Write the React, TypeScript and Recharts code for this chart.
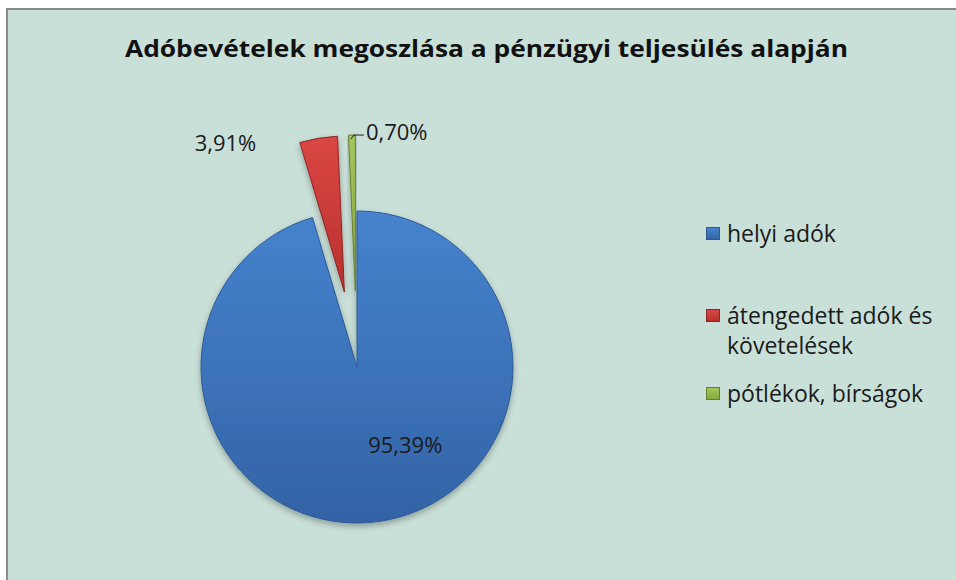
import React from 'react';
import { PieChart, Pie, Cell, Legend } from 'recharts';

const categories = ['helyi adók', 'átengedett adók és követelések', 'pótlékok, bírságok'];
const shares = [95.39, 3.91, 0.7];
const percentLabels = ['95,39%', '3,91%', '0,70%'];
const title = 'Adóbevételek megoszlása a pénzügyi teljesülés alapján';

const W = 956;
const H = 580;
const PIE_CX = 357;
const PIE_CY = 367;
const RADIUS = 156;
const EXPLODE = [0, 76, 76];
const FONT = '"Open Sans", Lato, sans-serif';

const gradients = [
  { id: 'g0', top: '#4683CE', bottom: '#3363A6', stroke: '#2D5A95' },
  { id: 'g1', top: '#DA4744', bottom: '#B8302E', stroke: '#8E2422' },
  { id: 'g2', top: '#A6C65E', bottom: '#86A63E', stroke: '#66802C' },
];

// label placement relative to the slice point (radius factor, dx, dy, anchor)
const labelLayout = [
  { rf: 0.5, dx: 37, dy: 0, anchor: 'middle' },
  { rf: 1.0, dx: -93, dy: 4, anchor: 'middle' },
  { rf: 1.0, dx: 14, dy: -4, anchor: 'start' },
];

const legendTops = [218, 300, 378];

const data = categories.map((name, i) => ({ name, value: shares[i], label: percentLabels[i] }));
const total = shares.reduce((a, b) => a + b, 0);
const RAD = Math.PI / 180;

function midAngle(i: number) {
  let cum = 0;
  for (let j = 0; j < i; j++) cum += shares[j];
  return 90 - (360 * (cum + shares[i] / 2)) / total;
}

function makeLabel(k: number) {
  return (p: any) => {
    if (p.index !== k) return null;
    const L = labelLayout[k];
    const ma = p.midAngle;
    const px = p.cx + p.outerRadius * L.rf * Math.cos(-ma * RAD);
    const py = p.cy + p.outerRadius * L.rf * Math.sin(-ma * RAD);
    const tx = px + L.dx;
    const ty = py + L.dy;
    return (
      <g key={`lbl-${k}`}>
        {k === 2 && (
          <polyline
            points={`${px - 1},${py + 4} ${px + 2},${py} ${tx - 2},${py}`}
            fill="none"
            stroke="#222"
            strokeWidth={1}
          />
        )}
        <text
          x={tx}
          y={ty}
          textAnchor={L.anchor}
          dominantBaseline="central"
          fontFamily={FONT}
          fontSize={22}
          fill="#1a1a1a"
        >
          {data[k].label}
        </text>
      </g>
    );
  };
}

function LegendContent() {
  return (
    <div style={{ position: 'relative', width: 245, height: 220 }}>
      {categories.map((c, i) => (
        <div
          key={c}
          style={{
            position: 'absolute',
            left: 0,
            top: legendTops[i] - 200,
            width: 248,
            display: 'flex',
            alignItems: 'flex-start',
            fontFamily: FONT,
            fontSize: 23,
            lineHeight: '30px',
            color: '#1a1a1a',
          }}
        >
          <svg width={14} height={14} style={{ marginTop: 9, marginRight: 7, flex: 'none' }}>
            <defs>
              <linearGradient id={`lg${i}`} x1="0" y1="0" x2="0" y2="1">
                <stop offset="0" stopColor={gradients[i].top} />
                <stop offset="1" stopColor={gradients[i].bottom} />
              </linearGradient>
            </defs>
            <rect x={0.5} y={0.5} width={13} height={12} fill={`url(#lg${i})`} stroke={gradients[i].stroke} />
          </svg>
          <span style={{ width: 225 }}>{c}</span>
        </div>
      ))}
    </div>
  );
}

export default function App() {
  return (
    <div style={{ position: 'absolute', left: 0, top: 0, width: W, height: H, background: '#ffffff', overflow: 'hidden' }}>
      <div
        style={{
          position: 'absolute',
          left: 6,
          top: 8,
          width: W - 6,
          height: H - 8,
          background: '#C9E0D8',
          borderLeft: '2px solid #8a8a8a',
          borderTop: '2px solid #8a8a8a',
          boxSizing: 'border-box',
        }}
      />
      <svg style={{ position: 'absolute', left: 0, top: 0 }} width={W} height={80}>
        <text
          x={125}
          y={57}
          textLength={723}
          lengthAdjust="spacingAndGlyphs"
          fontFamily={FONT}
          fontWeight={700}
          fontSize={24}
          fill="#111"
        >
          {title}
        </text>
      </svg>
      <div style={{ position: 'absolute', left: 0, top: 0 }}>
        <PieChart width={W} height={H} margin={{ top: 0, right: 0, bottom: 0, left: 0 }}>
          <defs>
            {gradients.map((g) => (
              <linearGradient key={g.id} id={g.id} x1="0" y1="0" x2="0" y2="1">
                <stop offset="0" stopColor={g.top} />
                <stop offset="1" stopColor={g.bottom} />
              </linearGradient>
            ))}
            <filter id="shadow" x="-20%" y="-20%" width="140%" height="140%">
              <feDropShadow dx="0" dy="3" stdDeviation="3" floodColor="#000" floodOpacity="0.3" />
            </filter>
          </defs>
          {data.map((_, k) => {
            const ma = midAngle(k);
            const cx = PIE_CX + EXPLODE[k] * Math.cos(ma * RAD);
            const cy = PIE_CY - EXPLODE[k] * Math.sin(ma * RAD);
            return (
              <Pie
                key={`pie-${k}`}
                data={data}
                dataKey="value"
                nameKey="name"
                cx={cx}
                cy={cy}
                outerRadius={RADIUS}
                startAngle={90}
                endAngle={-270}
                isAnimationActive={false}
                labelLine={false}
                label={makeLabel(k)}
                legendType="none"
                style={{ filter: 'url(#shadow)' }}
              >
                {data.map((d, i) => (
                  <Cell
                    key={d.name}
                    fill={i === k ? `url(#${gradients[i].id})` : 'none'}
                    stroke={i === k ? gradients[i].stroke : 'none'}
                    strokeWidth={1}
                  />
                ))}
              </Pie>
            );
          })}
          <Legend
            content={() => <LegendContent />}
            wrapperStyle={{ position: 'absolute', left: 706, top: 200, width: 248 }}
          />
        </PieChart>
      </div>
    </div>
  );
}
